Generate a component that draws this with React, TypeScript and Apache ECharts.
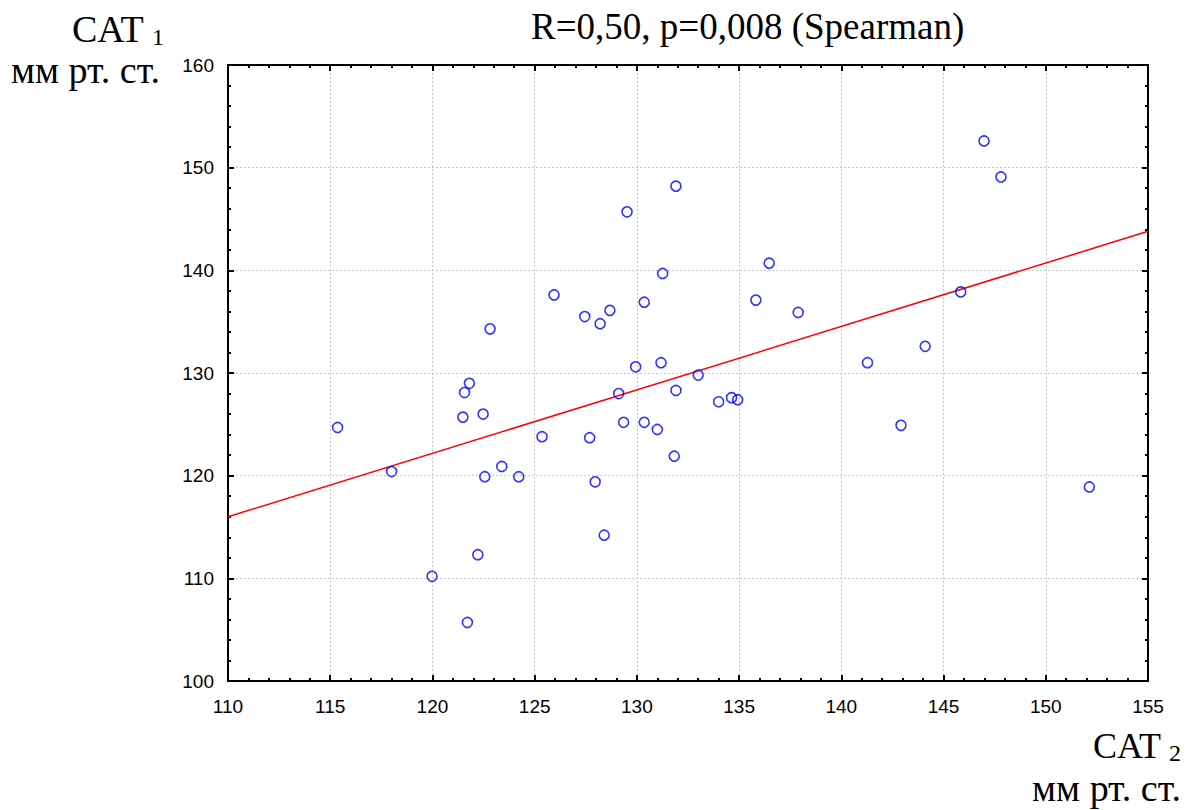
import React, { useEffect, useRef } from "react";
import * as echarts from "echarts";

const xValues = [
  115.36, 118.0, 122.82, 121.81, 121.57, 121.49, 122.48, 125.36, 123.39, 122.56,
  124.22, 122.22, 119.98, 121.71, 131.91, 129.52, 131.26, 125.95, 130.36, 128.68,
  127.45, 128.2, 136.47, 135.82, 137.89, 129.94, 131.18, 133.0, 129.11, 131.91,
  134.0, 134.63, 134.93, 129.35, 130.36, 131.0, 127.69, 131.83, 127.96, 128.4,
  146.98, 147.81, 145.84, 144.1, 141.28, 142.92, 152.13,
];
const yValues = [
  124.7, 120.4, 134.3, 129.0, 128.1, 125.7, 126.0, 123.8, 120.9, 119.9,
  119.9, 112.3, 110.2, 105.7, 148.2, 145.7, 139.7, 137.6, 136.9, 136.1,
  135.5, 134.8, 140.7, 137.1, 135.9, 130.6, 131.0, 129.8, 128.0, 128.3,
  127.2, 127.6, 127.4, 125.2, 125.2, 124.5, 123.7, 121.9, 119.4, 114.2,
  152.6, 149.1, 137.9, 132.6, 131.0, 124.9, 118.9,
];
const fitX = [110, 155];
const fitY = [116.0, 143.8];
const xTicks = [110, 155, 5];
const yTicks = [100, 160, 10];

const serif = "Liberation Serif";
const sans = "Liberation Sans";

export default function App() {
  const ref = useRef<HTMLDivElement>(null);
  useEffect(() => {
    const chart = echarts.init(ref.current!, null, { renderer: "svg" });
    const points = xValues.map((x, i) => [x, yValues[i]]);
    const fit = fitX.map((x, i) => [x, fitY[i]]);
    const axisCommon = {
      axisLine: { show: true, onZero: false, lineStyle: { color: "#000", width: 2 } },
      axisTick: { show: true, inside: true, length: 6, lineStyle: { color: "#000", width: 2 } },
      minorTick: { show: true, splitNumber: 5, length: 3, lineStyle: { color: "#000", width: 2 } },
    };
    const txt = (text: string, x: number, y: number, size: number, align: string = "left") => ({
      type: "text",
      x,
      y,
      style: {
        text,
        font: `${size}px '${serif}'`,
        fill: "#000",
        textAlign: align,
        textVerticalAlign: "middle",
        verticalAlign: "middle",
      },
    });
    chart.setOption({
      animation: false,
      backgroundColor: "#fff",
      grid: { left: 228, right: 42, top: 65, bottom: 129, containLabel: false },
      xAxis: [
        {
          type: "value",
          min: xTicks[0],
          max: xTicks[1],
          interval: xTicks[2],
          position: "bottom",
          ...axisCommon,
          axisLabel: { color: "#000", fontFamily: sans, fontSize: 19, margin: 16 },
          splitLine: { show: true, lineStyle: { color: "#c8c8c8", type: [2, 2], width: 1 } },
        },
        {
          type: "value",
          min: xTicks[0],
          max: xTicks[1],
          interval: xTicks[2],
          position: "top",
          ...axisCommon,
          axisLabel: { show: false },
          splitLine: { show: false },
        },
      ],
      yAxis: [
        {
          type: "value",
          min: yTicks[0],
          max: yTicks[1],
          interval: yTicks[2],
          position: "left",
          ...axisCommon,
          axisLabel: { color: "#000", fontFamily: sans, fontSize: 19, margin: 14 },
          splitLine: { show: true, lineStyle: { color: "#c8c8c8", type: [2, 2], width: 1 } },
        },
        {
          type: "value",
          min: yTicks[0],
          max: yTicks[1],
          interval: yTicks[2],
          position: "right",
          ...axisCommon,
          axisLabel: { show: false },
          splitLine: { show: false },
        },
      ],
      series: [
        {
          type: "line",
          data: fit,
          symbol: "none",
          lineStyle: { color: "#ff0000", width: 1.5 },
          z: 2,
        },
        {
          type: "scatter",
          data: points,
          symbol: "circle",
          symbolSize: 10,
          itemStyle: { color: "rgba(0,0,0,0)", borderColor: "#0000ff", borderWidth: 1.6 },
          z: 3,
        },
      ],
      graphic: [
        txt("R=0,50, p=0,008 (Spearman)", 531, 26, 37),
        txt("CAT", 72, 29, 38),
        txt("1", 152, 37, 24),
        txt("мм рт. ст.", 11, 70, 38),
        txt("CAT", 1161, 746, 36, "right"),
        txt("2", 1181, 753, 24, "right"),
        txt("мм рт. ст.", 1181, 788, 38, "right"),
      ],
    });
    return () => chart.dispose();
  }, []);
  return <div ref={ref} style={{ width: 1190, height: 810, position: "absolute", left: 0, top: 0 }} />;
}
